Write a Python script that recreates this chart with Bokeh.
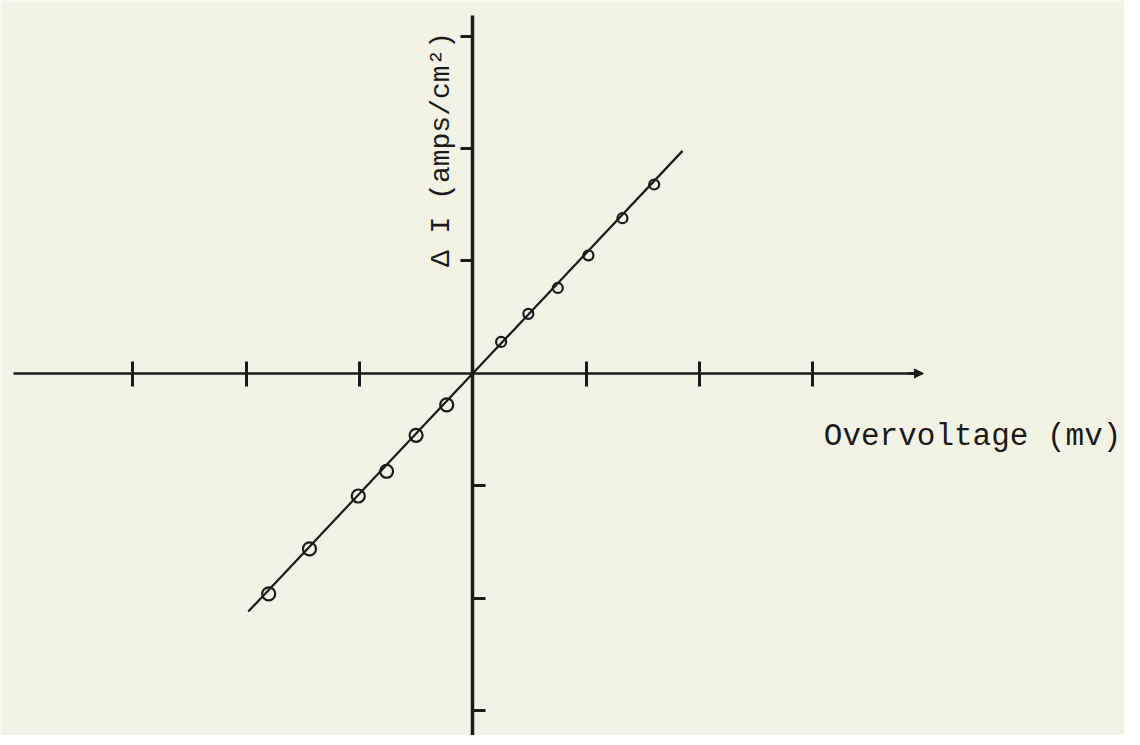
import numpy as np
from bokeh.plotting import figure
from bokeh.models import LinearAxis, FixedTicker, Label, Arrow, NormalHead, Range1d
from bokeh.embed import file_html
from bokeh.resources import INLINE

# ---- data (tick units) ----
x_neg = [-1.80, -1.44, -1.01, -0.76, -0.50, -0.23]
y_neg = [-1.96, -1.56, -1.09, -0.87, -0.55, -0.28]
x_pos = [0.25, 0.49, 0.75, 1.02, 1.32, 1.60]
y_pos = [0.28, 0.53, 0.76, 1.05, 1.38, 1.68]
x_ticks = [-3, -2, -1, 1, 2, 3]
y_ticks_up = [1, 2, 3]
y_ticks_down = [-1, -2, -3]
fit_extent = [-1.98, 1.85]
x_label = "Overvoltage (mv)"
y_label = "\u0394 I (amps/cm\u00b2)"

INK = "#1a1a1a"
BG = "#f3f3e5"

W, H = 1124, 735
RW, RH = 1140, 745
# layout in reference pixels: origin at (479, 378); 115 px per x unit, 114 px per y unit
ox, oy, ux, uy = 479, 378, 115.0, 114.0
x0 = (0 - ox) / ux
x1 = (RW - ox) / ux
y1 = (oy - 0) / uy
y0 = (oy - RH) / uy

def rx(px):
    return (px - ox) / ux

def ry(py):
    return (oy - py) / uy

p = figure(width=W, height=H, output_backend="svg", toolbar_location=None,
           x_axis_type=None, y_axis_type=None,
           x_range=Range1d(x0, x1), y_range=Range1d(y0, y1),
           min_border=0, outline_line_color=None,
           background_fill_color=BG, border_fill_color=BG)
p.grid.visible = False

# x axis crossing at y=0
xa = LinearAxis(ticker=FixedTicker(ticks=x_ticks), fixed_location=0,
                bounds=(rx(13), rx(935)))
xa.major_label_overrides = {t: "" for t in x_ticks}
xa.major_label_text_font_size = "0px"
xa.axis_line_color = INK
xa.axis_line_width = 2.5
xa.major_tick_line_color = INK
xa.major_tick_line_width = 3
xa.major_tick_in = 12
xa.major_tick_out = 13
xa.minor_tick_line_color = None
p.add_layout(xa, "below")

# y axis (upper ticks to the left)
ya = LinearAxis(ticker=FixedTicker(ticks=y_ticks_up), fixed_location=0,
                bounds=(y0 - 0.2, ry(15)))
ya.major_label_overrides = {t: "" for t in y_ticks_up}
ya.major_label_text_font_size = "0px"
ya.axis_line_color = INK
ya.axis_line_width = 3.5
ya.major_tick_line_color = INK
ya.major_tick_line_width = 3
ya.major_tick_in = 0
ya.major_tick_out = 12
ya.minor_tick_line_color = None
p.add_layout(ya, "left")

# lower ticks to the right
yb = LinearAxis(ticker=FixedTicker(ticks=y_ticks_down), fixed_location=0)
yb.major_label_overrides = {t: "" for t in y_ticks_down}
yb.major_label_text_font_size = "0px"
yb.axis_line_color = None
yb.major_tick_line_color = INK
yb.major_tick_line_width = 3
yb.major_tick_in = 13
yb.major_tick_out = 0
yb.minor_tick_line_color = None
p.add_layout(yb, "left")

# arrow head at the end of the x axis
p.add_layout(Arrow(end=NormalHead(size=9, fill_color=INK, line_color=INK),
                   x_start=rx(920), y_start=0, x_end=rx(936), y_end=0,
                   line_color=INK, line_width=2.5))

# fitted line through origin
xs = np.array(x_neg + x_pos)
ys = np.array(y_neg + y_pos)
slope = float(np.sum(xs * ys) / np.sum(xs * xs))
fx = np.array(fit_extent)
p.line(fx, slope * fx, line_color=INK, line_width=2.2)

# data points
p.scatter(x_neg, y_neg, marker="circle", size=13, fill_color=None,
          line_color=INK, line_width=2.2)
p.scatter(x_pos, y_pos, marker="circle", size=10, fill_color=None,
          line_color=INK, line_width=2.2)

# axis labels
p.add_layout(Label(x=rx(835), y=ry(442), text=x_label,
                   text_font="Liberation Mono", text_font_size="31px",
                   text_color=INK, text_align="left", text_baseline="middle"))
p.add_layout(Label(x=rx(447), y=ry(151), text=y_label,
                   angle=np.pi / 2, text_font="Liberation Mono", text_font_size="28px",
                   text_color=INK, text_align="center", text_baseline="middle"))

open("out.html", "w").write(file_html(p, INLINE))
